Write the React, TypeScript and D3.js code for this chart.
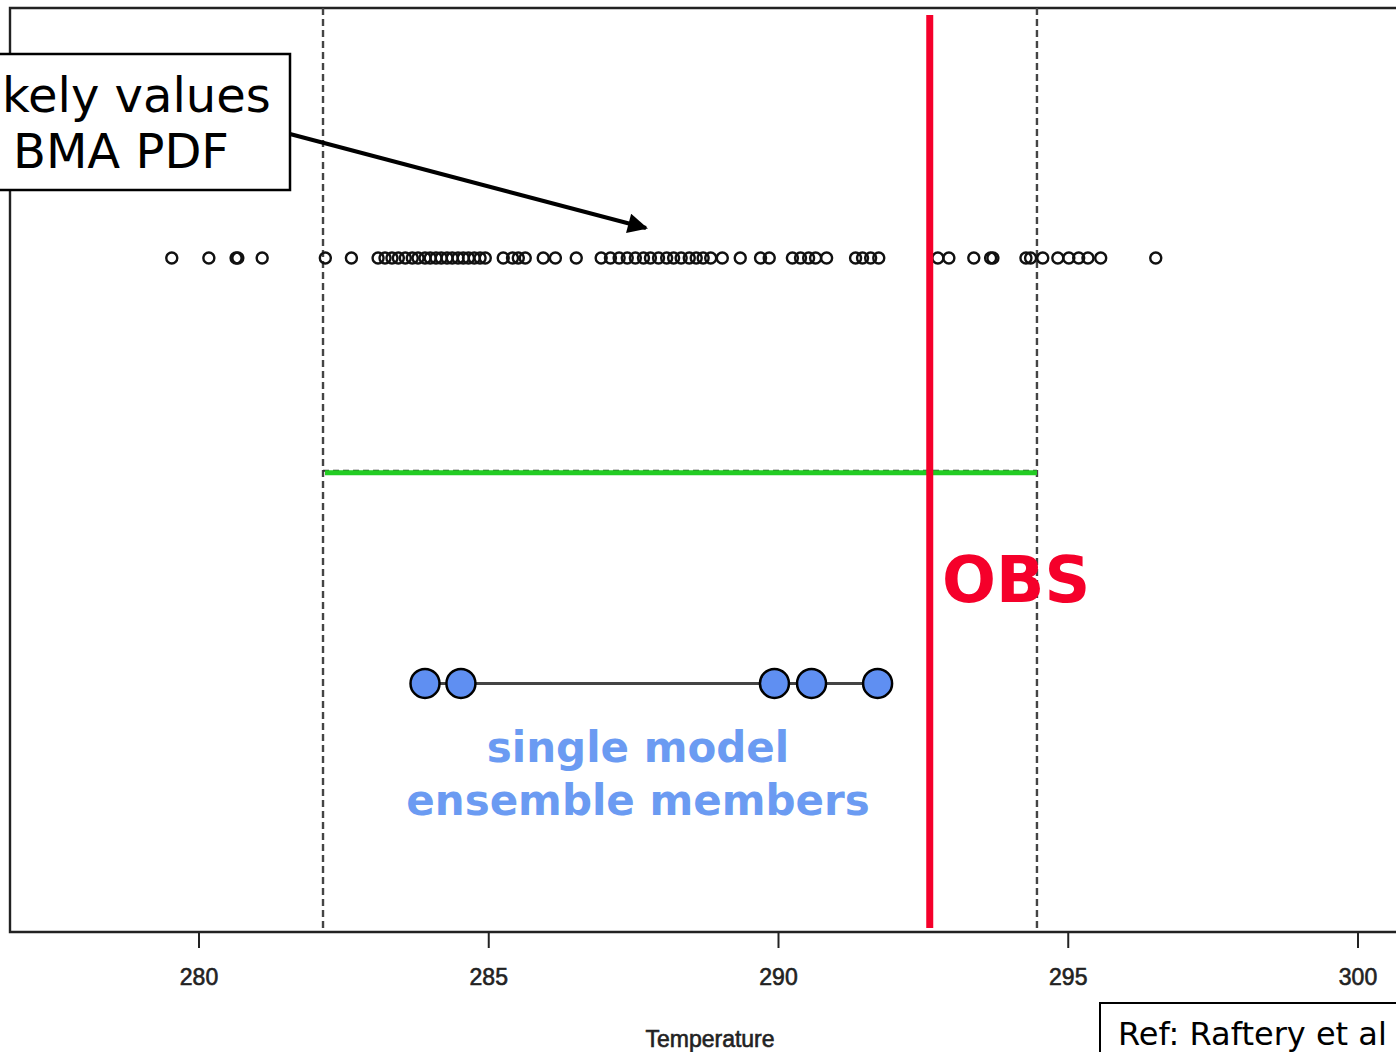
import React from "react";
import * as d3 from "d3";

// ---- data ----
const bmaSamples: number[] = [
  279.53, 280.17, 280.64, 280.67, 281.09, 282.18, 282.63,
  283.09, 283.21, 283.33, 283.44, 283.56, 283.68, 283.78, 283.9, 283.99,
  284.09, 284.18, 284.28, 284.37, 284.47, 284.56, 284.65, 284.75, 284.85, 284.94,
  285.25, 285.41, 285.51, 285.63, 285.94, 286.15, 286.51,
  286.94, 287.1, 287.25, 287.39, 287.53, 287.67, 287.79, 287.93, 288.07, 288.19,
  288.32, 288.46, 288.58, 288.7, 288.83, 289.03, 289.34, 289.69, 289.84,
  290.24, 290.38, 290.52, 290.64, 290.83, 291.33, 291.45, 291.59, 291.73,
  292.75, 292.94, 293.37, 293.66, 293.7,
  294.27, 294.35, 294.56, 294.82, 295.01, 295.18, 295.34, 295.56, 296.51,
];
const ensembleMembers: number[] = [283.9, 284.52, 289.93, 290.57, 291.71];
const observation = 292.61;
const intervalBounds: number[] = [282.14, 294.46];
const xTicks: number[] = [280, 285, 290, 295, 300];
const xLabel = "Temperature";
const annotationLines: string[] = ["kely values", "BMA PDF"];
const membersLabel: string[] = ["single model", "ensemble members"];
const obsLabel = "OBS";
const refLabel = "Ref: Raftery et al";

const W = 1396;
const H = 1052;

export default function App() {
  const x = d3.scaleLinear().domain([280, 300]).range([199, 1358]);
  const y = d3.scaleLinear().domain([0, 1]).range([932, 8]);
  const sampleY = y(0.7294);
  const intervalY = y(0.497);
  const memberY = y(0.269);
  const frameLeft = 10;
  const frameTop = y(1);
  const frameBottom = y(0);
  const blue = "#5f8ff2";
  const blueText = "#6b9bf2";
  const red = "#f5002a";
  const green = "#22cc22";
  const tickFont = "'Liberation Sans', Arial, sans-serif";
  const textFont = "'DejaVu Sans', Verdana, sans-serif";

  const memberLine = d3.line<number>().x((d) => x(d)).y(() => memberY);

  return (
    <svg
      width={W}
      height={H}
      style={{ position: "absolute", left: 0, top: 0, background: "#fff" }}
    >
      <defs>
        <marker
          id="arrowHead"
          viewBox="0 0 10 10"
          refX="9"
          refY="5"
          markerWidth="6"
          markerHeight="5"
          markerUnits="strokeWidth"
          orient="auto"
        >
          <path d="M0,0 L10,5 L0,10 z" fill="#000" />
        </marker>
      </defs>

      {/* frame */}
      <path
        d={`M${W + 20},${frameTop} H${frameLeft} V${frameBottom} H${W + 20}`}
        fill="none"
        stroke="#222"
        strokeWidth={2.4}
      />

      {/* x axis ticks */}
      {xTicks.map((t) => (
        <g key={t}>
          <line x1={x(t)} x2={x(t)} y1={frameBottom} y2={frameBottom + 16} stroke="#222" strokeWidth={2} />
          <text
            x={x(t)}
            y={frameBottom + 53}
            textAnchor="middle"
            fontFamily={tickFont}
            fontSize={23}
            fill="#222"
            stroke="#222"
            strokeWidth={0.6}
          >
            {t}
          </text>
        </g>
      ))}
      <text
        x={710}
        y={1047}
        textAnchor="middle"
        fontFamily={tickFont}
        fontSize={23}
        fill="#222"
        stroke="#222"
        strokeWidth={0.6}
      >
        {xLabel}
      </text>

      {/* dashed interval bounds */}
      {intervalBounds.map((b) => (
        <line
          key={b}
          x1={x(b)}
          x2={x(b)}
          y1={frameTop}
          y2={frameBottom}
          stroke="#444"
          strokeWidth={2.4}
          strokeDasharray="7 4"
        />
      ))}

      {/* interval line */}
      <line
        x1={x(intervalBounds[0])}
        x2={x(intervalBounds[1])}
        y1={intervalY - 2}
        y2={intervalY - 2}
        stroke="#333"
        strokeWidth={2}
        strokeDasharray="6 4"
      />
      <line
        x1={x(intervalBounds[0]) + 2}
        x2={x(intervalBounds[1])}
        y1={intervalY}
        y2={intervalY}
        stroke={green}
        strokeWidth={5}
      />

      {/* BMA samples */}
      {bmaSamples.map((v, i) => (
        <circle key={i} cx={x(v)} cy={sampleY} r={5.5} fill="none" stroke="#111" strokeWidth={2.4} />
      ))}

      {/* ensemble members */}
      <path
        d={memberLine([d3.min(ensembleMembers)!, d3.max(ensembleMembers)!]) || ""}
        stroke="#444"
        strokeWidth={3}
        fill="none"
      />
      {ensembleMembers.map((v, i) => (
        <circle key={i} cx={x(v)} cy={memberY} r={14.5} fill={blue} stroke="#000" strokeWidth={2.5} />
      ))}
      {membersLabel.map((s, i) => (
        <text
          key={s}
          x={638}
          y={762 + i * 53}
          textAnchor="middle"
          fontFamily={textFont}
          fontWeight="bold"
          fontSize={42}
          fill={blueText}
        >
          {s}
        </text>
      ))}

      {/* observation */}
      <line x1={x(observation)} x2={x(observation)} y1={15} y2={928} stroke={red} strokeWidth={7} />
      <text
        x={942}
        y={602}
        fontFamily={textFont}
        fontWeight="bold"
        fontSize={63.5}
        fill={red}
      >
        {obsLabel}
      </text>

      {/* annotation */}
      <line
        x1={290}
        x2={646}
        y1={134}
        y2={228}
        stroke="#000"
        strokeWidth={4}
        markerEnd="url(#arrowHead)"
      />
      <rect x={-3} y={54} width={293} height={136} fill="#fff" stroke="#000" strokeWidth={2.5} />
      <text x={2} y={112} fontFamily={textFont} fontSize={48} fill="#000">
        {annotationLines[0]}
      </text>
      <text x={13} y={168} fontFamily={textFont} fontSize={48} fill="#000">
        {annotationLines[1]}
      </text>

      {/* reference box */}
      <rect x={1100} y={1003} width={320} height={80} fill="#fff" stroke="#000" strokeWidth={2} />
      <text x={1118} y={1045} fontFamily={textFont} fontSize={32} fill="#000">
        {refLabel}
      </text>
    </svg>
  );
}
